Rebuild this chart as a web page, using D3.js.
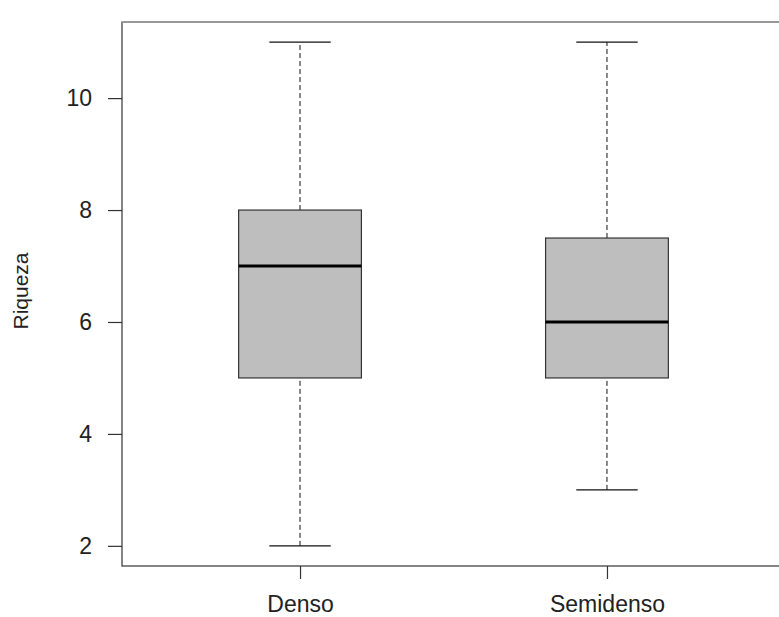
<!DOCTYPE html>
<html>
<head>
<meta charset="utf-8">
<script src="https://cdn.jsdelivr.net/npm/d3@7"></script>
<style>
  body { margin: 0; background: #fff; }
  text { font-family: "Liberation Sans", Arial, sans-serif; fill: #222; }
</style>
</head>
<body>
<div id="chart"></div>
<script>
// boxplot stats
const groups = ["Denso", "Semidenso"];
const lowerWhisker = [2, 3];
const q1 = [5, 5];
const median = [7, 6];
const q3 = [8, 7.5];
const upperWhisker = [11, 11];
const yTicks = [2, 4, 6, 8, 10];

const width = 779, height = 617;

const svg = d3.select("#chart").append("svg")
  .attr("width", width)
  .attr("height", height);

// x as in R: groups at 1, 2
const x = d3.scaleLinear().domain([0.42, 2.58]).range([122, 785]);
const y = d3.scaleLinear().domain([1.64, 11.36]).range([566, 22]);

const boxHalf = 0.2;   // box half width in x units
const capHalf = 0.1;

const data = groups.map((g, i) => ({
  name: g, pos: i + 1,
  lo: lowerWhisker[i], q1: q1[i], med: median[i], q3: q3[i], hi: upperWhisker[i]
}));

const box = svg.selectAll("g.box").data(data).enter().append("g").attr("class", "box");

// whiskers (dashed)
box.append("line")
  .attr("x1", d => x(d.pos)).attr("x2", d => x(d.pos))
  .attr("y1", d => y(d.lo)).attr("y2", d => y(d.q1))
  .attr("stroke", "#111").attr("stroke-dasharray", "5,3");
box.append("line")
  .attr("x1", d => x(d.pos)).attr("x2", d => x(d.pos))
  .attr("y1", d => y(d.q3)).attr("y2", d => y(d.hi))
  .attr("stroke", "#111").attr("stroke-dasharray", "5,3");

// caps
["lo", "hi"].forEach(k => {
  box.append("line")
    .attr("x1", d => x(d.pos - capHalf)).attr("x2", d => x(d.pos + capHalf))
    .attr("y1", d => y(d[k])).attr("y2", d => y(d[k]))
    .attr("stroke", "#111").attr("stroke-width", 1.2);
});

// boxes
box.append("rect")
  .attr("x", d => x(d.pos - boxHalf))
  .attr("width", d => x(d.pos + boxHalf) - x(d.pos - boxHalf))
  .attr("y", d => y(d.q3))
  .attr("height", d => y(d.q1) - y(d.q3))
  .attr("fill", "#bebebe")
  .attr("stroke", "#333").attr("stroke-width", 1.2);

// medians
box.append("line")
  .attr("x1", d => x(d.pos - boxHalf)).attr("x2", d => x(d.pos + boxHalf))
  .attr("y1", d => y(d.med)).attr("y2", d => y(d.med))
  .attr("stroke", "#000").attr("stroke-width", 3.2);

// frame
svg.append("rect")
  .attr("x", x.range()[0]).attr("y", y.range()[1])
  .attr("width", x.range()[1] - x.range()[0])
  .attr("height", y.range()[0] - y.range()[1])
  .attr("fill", "none").attr("stroke", "#333").attr("stroke-width", 1.2);
svg.append("line")
  .attr("x1", x.range()[0]).attr("x2", x.range()[1])
  .attr("y1", y.range()[1]).attr("y2", y.range()[1])
  .attr("stroke", "#999").attr("stroke-width", 2);

// axes
const yAxis = svg.append("g")
  .attr("transform", `translate(${x.range()[0]},0)`)
  .call(d3.axisLeft(y).tickValues(yTicks).tickSize(14).tickPadding(16));
const xAxis = svg.append("g")
  .attr("transform", `translate(0,${y.range()[0]})`)
  .call(d3.axisBottom(x).tickValues([1, 2]).tickFormat((d, i) => groups[i]).tickSize(13).tickPadding(17));

[yAxis, xAxis].forEach(a => {
  a.select(".domain").remove();
  a.selectAll(".tick line").attr("stroke", "#333").attr("stroke-width", 1.2);
  a.selectAll(".tick text").style("font-size", "23px").attr("fill", "#222");
});

svg.append("text")
  .attr("transform", "translate(28,291) rotate(-90)")
  .attr("text-anchor", "middle")
  .style("font-size", "21px")
  .text("Riqueza");
</script>
</body>
</html>
